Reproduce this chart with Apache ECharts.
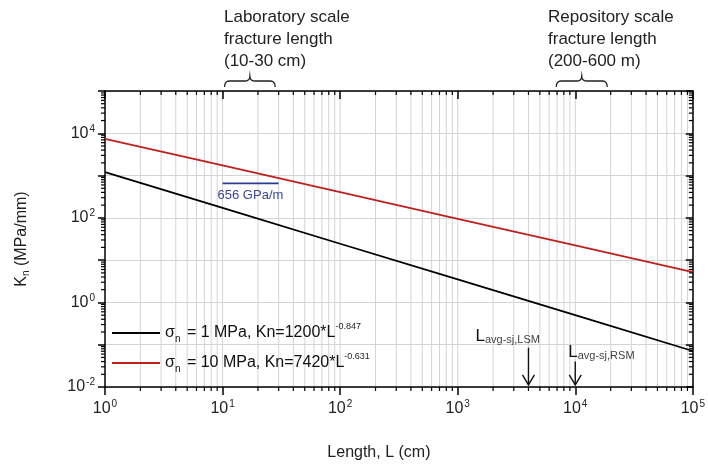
<!DOCTYPE html>
<html>
<head>
<meta charset="utf-8">
<script src="https://cdn.jsdelivr.net/npm/echarts@6/dist/echarts.min.js"></script>
<style>
  html, body { margin: 0; padding: 0; background: #fff; }
  #main { width: 708px; height: 468px; }
</style>
</head>
<body>
<div id="main"></div>
<script>
// fracture length L (cm) and normal stiffness Kn (MPa/mm)
const lengthCm = [1, 10, 100, 1000, 10000, 100000];
const knSigma1 = [1200, 172, 24.4, 3.49, 0.50, 0.071];   // sigma_n = 1 MPa
const knSigma10 = [7420, 1736, 406, 95, 22.2, 5.2];      // sigma_n = 10 MPa
const stiffnessLength = [10, 30];
const stiffnessValue = [656, 656];                       // 656 GPa/m
const labRange = [10.4, 28];
const repoRange = [6900, 18700];
const avgLengths = [4000, 10000];                        // L avg-sj LSM / RSM
const avgArrowTop = [0.085, 0.04];
const avgArrowBottom = 0.0112;
const xRange = [1, 100000];
const yRange = [0.01, 100000];

const font = 'Liberation Sans, Arial, sans-serif';
const grey = '#d4d4d4';

const chart = echarts.init(document.getElementById('main'));

function expLabel(v, skipOdd) {
  const e = Math.round(Math.log10(v));
  if (skipOdd && Math.abs(e) % 2 === 1) return '';
  return '{b|10}{e|' + e + '}';
}
const labelRich = {
  b: { fontSize: 16, fontFamily: font, color: '#222' },
  e: { fontSize: 10, fontFamily: font, color: '#222', verticalAlign: 'top', padding: [0, 0, 9, 1] }
};

chart.setOption({
  animation: false,
  textStyle: { fontFamily: font },
  grid: { left: 105, right: 12, top: 91, bottom: 81 },
  legend: {
    orient: 'vertical',
    left: 112,
    top: 322,
    padding: 0,
    icon: 'rect',
    itemWidth: 48,
    itemHeight: 2,
    itemGap: 8,
    data: ['s1', 's10'],
    formatter: function (name) {
      return name === 's1'
        ? '{t|σ}{sub|n}{t| = 1 MPa, Kn=1200*L}{sup|-0.847}'
        : '{t|σ}{sub|n}{t| = 10 MPa, Kn=7420*L}{sup|-0.631}';
    },
    textStyle: {
      color: '#111',
      rich: {
        t: { fontSize: 16, fontFamily: font, color: '#111', lineHeight: 22 },
        sub: { fontSize: 10, fontFamily: font, color: '#111', verticalAlign: 'bottom', padding: [10, 2, 0, 0] },
        sup: { fontSize: 9, fontFamily: font, color: '#222', verticalAlign: 'top', padding: [0, 0, 11, 0] }
      }
    }
  },
  xAxis: [{
    type: 'log', logBase: 10, min: xRange[0], max: xRange[1], splitNumber: 5,
    name: 'Length, L (cm)', nameLocation: 'middle', nameGap: 58,
    nameTextStyle: { fontSize: 16, color: '#222', padding: [0, 40, 0, 0] },
    axisLine: { lineStyle: { color: '#000', width: 1.5 } },
    axisTick: { inside: false, length: 8, lineStyle: { color: '#000', width: 1.5 } },
    axisLabel: { margin: 12, formatter: v => expLabel(v, false), rich: labelRich },
    splitLine: { show: false }
  }, {
    type: 'log', logBase: 10, min: xRange[0], max: xRange[1], splitNumber: 5, position: 'top',
    axisLine: { lineStyle: { color: '#000', width: 1.5 } },
    axisTick: { inside: true, length: 8, lineStyle: { color: '#000', width: 1.5 } },
    axisLabel: { show: false }, splitLine: { show: false }
  }],
  yAxis: [{
    type: 'log', logBase: 10, min: yRange[0], max: yRange[1], splitNumber: 7,
    name: 'K{sub|n} (MPa/mm)', nameLocation: 'middle', nameGap: 74,
    nameTextStyle: {
      fontSize: 16, color: '#222',
      rich: { sub: { fontSize: 10, color: '#222', verticalAlign: 'bottom', padding: [8, 0, 0, 0] } }
    },
    axisLine: { lineStyle: { color: '#000', width: 1.5 } },
    axisTick: { inside: false, length: 7, lineStyle: { color: '#000', width: 1.5 } },
    axisLabel: { margin: 10, formatter: v => expLabel(v, true), rich: labelRich },
    splitLine: { show: true, lineStyle: { color: grey, width: 1 } }
  }, {
    type: 'log', logBase: 10, min: yRange[0], max: yRange[1], splitNumber: 7, position: 'right',
    axisLine: { lineStyle: { color: '#000', width: 1.5 } },
    axisTick: { inside: true, length: 7, lineStyle: { color: '#000', width: 1.5 } },
    axisLabel: { show: false }, splitLine: { show: false }
  }],
  series: [{
    name: 's1', type: 'line', symbol: 'none', z: 5,
    data: lengthCm.map((l, i) => [l, knSigma1[i]]),
    lineStyle: { color: '#000', width: 1.8 }, itemStyle: { color: '#000' }
  }, {
    name: 's10', type: 'line', symbol: 'none', z: 5,
    data: lengthCm.map((l, i) => [l, knSigma10[i]]),
    lineStyle: { color: '#c0201c', width: 1.8 }, itemStyle: { color: '#c0201c' }
  }, {
    name: 'stiffness', type: 'line', symbol: 'none', z: 5,
    data: stiffnessLength.map((l, i) => [l, stiffnessValue[i]]),
    lineStyle: { color: '#2b3a96', width: 1.8 }
  }]
});

// minor ticks, minor grid lines and annotations placed through the axes
const px = v => chart.convertToPixel({ xAxisIndex: 0 }, v);
const py = v => chart.convertToPixel({ yAxisIndex: 0 }, v);
const x0 = px(xRange[0]), x1 = px(xRange[1]);
const y0 = py(yRange[0]), y1 = py(yRange[1]);
const g = [];
const tickStyle = { stroke: '#000', lineWidth: 1.2 };

for (let d = 1; d < xRange[1]; d *= 10) {
  for (let k = 2; k <= 10; k++) {
    const x = px(k * d);
    g.push({ type: 'line', z: -10, silent: true, shape: { x1: x, y1: y1, x2: x, y2: y0 }, style: { stroke: grey, lineWidth: 1 } });
    if (k < 10) {
      g.push({ type: 'line', z: 10, shape: { x1: x, y1: y0, x2: x, y2: y0 + 4 }, style: tickStyle });
      g.push({ type: 'line', z: 10, shape: { x1: x, y1: y1, x2: x, y2: y1 + 4 }, style: tickStyle });
    }
  }
}
for (let d = yRange[0]; d < yRange[1]; d *= 10) {
  for (let k = 2; k <= 9; k++) {
    const y = py(k * d);
    g.push({ type: 'line', z: 10, shape: { x1: x0 - 4, y1: y, x2: x0, y2: y }, style: tickStyle });
    g.push({ type: 'line', z: 10, shape: { x1: x1 - 4, y1: y, x2: x1, y2: y }, style: tickStyle });
  }
}

// curly brace drawn as a sampled polyline
function quad(p0, c, p1, pts) {
  for (let t = 0.2; t <= 1.0001; t += 0.2) {
    const u = 1 - t;
    pts.push([u * u * p0[0] + 2 * u * t * c[0] + t * t * p1[0], u * u * p0[1] + 2 * u * t * c[1] + t * t * p1[1]]);
  }
}
function brace(a, b, y) {
  const xa = px(a), xb = px(b), xm = (xa + xb) / 2;
  const pts = [[xa, y + 6]];
  quad([xa, y + 6], [xa, y], [xa + 5, y], pts);
  pts.push([xm - 5, y]);
  quad([xm - 5, y], [xm, y], [xm, y - 5], pts);
  quad([xm, y - 5], [xm, y], [xm + 5, y], pts);
  pts.push([xb - 5, y]);
  quad([xb - 5, y], [xb, y], [xb, y + 6], pts);
  return { type: 'polyline', z: 10, shape: { points: pts }, style: { stroke: '#222', lineWidth: 1.3, fill: null } };
}
g.push(brace(labRange[0], labRange[1], 81));
g.push(brace(repoRange[0], repoRange[1], 81));

const topText = { fontSize: 17, fontFamily: font, fill: '#222', lineHeight: 22 };
g.push({ type: 'text', left: 224, top: 6, style: Object.assign({ text: 'Laboratory scale\nfracture length\n(10-30 cm)' }, topText) });
g.push({ type: 'text', left: 548, top: 6, style: Object.assign({ text: 'Repository scale\nfracture length\n(200-600 m)' }, topText) });

g.push({
  type: 'text', z: 10, x: px(stiffnessLength[0]) - 5, y: py(stiffnessValue[0]) + 6,
  style: { text: '656 GPa/m', fontSize: 13, fontFamily: font, fill: '#3a4690' }
});

const avgNames = ['LSM', 'RSM'];
avgLengths.forEach((l, i) => {
  const x = px(l), yt = py(avgArrowTop[i]), yb = py(avgArrowBottom);
  g.push({ type: 'line', z: 10, shape: { x1: x, y1: yt, x2: x, y2: yb }, style: { stroke: '#111', lineWidth: 1.4 } });
  g.push({ type: 'polyline', z: 10, shape: { points: [[x - 6, yb - 10], [x, yb], [x + 6, yb - 10]] }, style: { stroke: '#111', lineWidth: 1.4, fill: null } });
  g.push({
    type: 'text', z: 10, x: x - (i === 0 ? 53 : 7), y: yt - (i === 0 ? 21 : 19),
    style: {
      text: '{L|L}{s|avg-sj,' + avgNames[i] + '}',
      rich: {
        L: { fontSize: 17, fontFamily: font, fill: '#111' },
        s: { fontSize: 11, fontFamily: font, fill: '#444', verticalAlign: 'bottom', padding: [8, 0, 0, 0] }
      }
    }
  });
});

chart.setOption({ graphic: g });
</script>
</body>
</html>
